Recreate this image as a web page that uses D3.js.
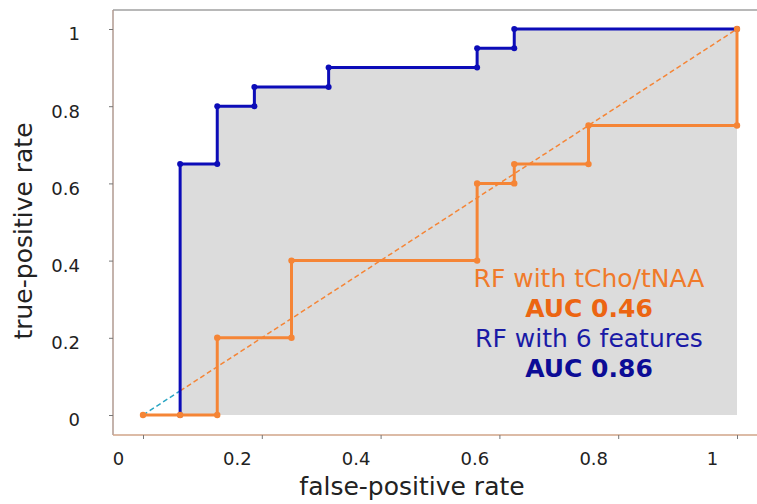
<!DOCTYPE html>
<html>
<head>
<meta charset="utf-8">
<script src="https://cdn.jsdelivr.net/npm/d3@7"></script>
<style>
  body { margin: 0; background: #fff; }
  text { font-family: "DejaVu Sans", sans-serif; }
</style>
</head>
<body>
<div id="plot"></div>
<script>
// ROC points
const fprBlue = [0.0625, 0.0625, 0.125, 0.125, 0.1875, 0.1875, 0.3125, 0.3125, 0.5625, 0.5625, 0.625, 0.625, 1];
const tprBlue = [0, 0.65, 0.65, 0.8, 0.8, 0.85, 0.85, 0.9, 0.9, 0.95, 0.95, 1, 1];
const fprOrange = [0, 0.0625, 0.125, 0.125, 0.25, 0.25, 0.5625, 0.5625, 0.625, 0.625, 0.75, 0.75, 1, 1];
const tprOrange = [0, 0, 0, 0.2, 0.2, 0.4, 0.4, 0.6, 0.6, 0.65, 0.65, 0.75, 0.75, 1];
const tickVals = [0, 0.2, 0.4, 0.6, 0.8, 1];
const legendLines = ["RF with tCho/tNAA", "AUC 0.46", "RF with 6 features", "AUC 0.86"];

var W = 757, H = 504;
var blueC = "#0c0cb8", orangeC = "#f58536";

const svg = d3.select("#plot").append("svg")
    .attr("width", W).attr("height", H);

// scales
var x = d3.scaleLinear().domain([0, 1]).range([143, 737]);
var y = d3.scaleLinear().domain([0, 1]).range([415, 29]);

const blue = fprBlue.map((d, i) => [d, tprBlue[i]]);
const orange = fprOrange.map((d, i) => [d, tprOrange[i]]);

// gray area under the blue curve
var area = d3.area()
    .x(d => x(d[0]))
    .y0(y(0))
    .y1(d => y(d[1]));
svg.append("path")
    .datum(blue)
    .attr("d", area)
    .attr("fill", "#dcdcdc");

// frame
svg.append("line").attr("x1", 113).attr("x2", W).attr("y1", 10).attr("y2", 10)
    .attr("stroke", "#a0a0a0").attr("stroke-width", 1.5);
svg.append("line").attr("x1", 113).attr("x2", 113).attr("y1", 10).attr("y2", 435)
    .attr("stroke", "#b09a90").attr("stroke-width", 1.5);
svg.append("line").attr("x1", 113).attr("x2", W).attr("y1", 435).attr("y2", 435)
    .attr("stroke", "#d0a488").attr("stroke-width", 1.5);

// x axis
var xAxis = d3.axisBottom(x).tickValues(tickVals).tickFormat(d3.format("~g"))
    .tickSize(4).tickPadding(13);
var gx = svg.append("g").attr("transform", "translate(0,435)").call(xAxis);
gx.select(".domain").remove();
gx.selectAll(".tick line").attr("stroke", "#777");
gx.selectAll(".tick text")
    .attr("dx", -25)
    .attr("fill", "#222")
    .style("font-size", "18px");

// y axis
var yAxis = d3.axisLeft(y).tickValues(tickVals).tickFormat(d3.format("~g"))
    .tickSize(4).tickPadding(29);
var gy = svg.append("g").attr("transform", "translate(113,0)").call(yAxis);
gy.select(".domain").remove();
gy.selectAll(".tick line").attr("stroke", "#777");
gy.selectAll(".tick text")
    .attr("dy", "0.6em")
    .attr("fill", "#222")
    .style("font-size", "18px");

// axis labels
svg.append("text")
    .attr("x", 412).attr("y", 495)
    .attr("text-anchor", "middle")
    .attr("fill", "#222")
    .style("font-size", "25px")
    .text("false-positive rate");

svg.append("text")
    .attr("transform", "translate(32,231) rotate(-90)")
    .attr("text-anchor", "middle")
    .attr("fill", "#222")
    .style("font-size", "25px")
    .text("true-positive rate");

// chance diagonal: teal part then orange part
svg.append("line")
    .attr("x1", x(0)).attr("y1", y(0))
    .attr("x2", x(0.0625)).attr("y2", y(0.0625))
    .attr("stroke", "#2aa6c4").attr("stroke-width", 1.5)
    .attr("stroke-dasharray", "5,3");
svg.append("line")
    .attr("x1", x(0.0625)).attr("y1", y(0.0625))
    .attr("x2", x(1)).attr("y2", y(1))
    .attr("stroke", orangeC).attr("stroke-width", 1.5)
    .attr("stroke-dasharray", "5,3");

var line = d3.line().x(d => x(d[0])).y(d => y(d[1]));

// blue ROC
svg.append("path").datum(blue).attr("d", line)
    .attr("fill", "none").attr("stroke", blueC).attr("stroke-width", 3);
svg.selectAll(".ptB").data(blue).join("circle")
    .attr("class", "ptB")
    .attr("cx", d => x(d[0])).attr("cy", d => y(d[1])).attr("r", 3)
    .attr("fill", blueC);

// orange ROC
svg.append("path").datum(orange).attr("d", line)
    .attr("fill", "none").attr("stroke", orangeC).attr("stroke-width", 3);
svg.selectAll(".ptO").data(orange).join("circle")
    .attr("class", "ptO")
    .attr("cx", d => x(d[0])).attr("cy", d => y(d[1])).attr("r", 3.2)
    .attr("fill", orangeC);

// legend text
var legColors = ["#f07a2a", "#ec6512", "#1a1aa6", "#0c0c96"];
var legWeights = ["normal", "bold", "normal", "bold"];
svg.selectAll(".leg").data(legendLines).join("text")
    .attr("class", "leg")
    .attr("x", 589)
    .attr("y", (d, i) => 287 + i * 30)
    .attr("text-anchor", "middle")
    .attr("fill", (d, i) => legColors[i])
    .style("font-weight", (d, i) => legWeights[i])
    .style("font-size", "25px")
    .text(d => d);
</script>
</body>
</html>
